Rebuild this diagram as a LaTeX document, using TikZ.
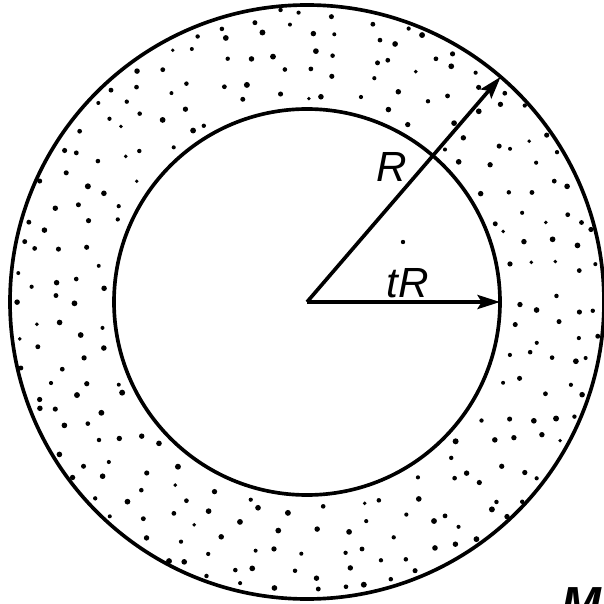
\documentclass[tikz,border=0pt]{standalone}
\usepackage{fontspec}
\setmainfont{Liberation Sans}
\usetikzlibrary{arrows.meta}

\begin{document}
\begin{tikzpicture}[x=0.025cm,y=0.025cm,
  ring/.style={line width=2.6pt},
  radius arrow/.style={line width=2.6pt,-{Stealth[length=16pt,width=10pt,inset=3pt]}},
  lbl/.style={font=\fontsize{30}{36}\selectfont\itshape}]

\useasboundingbox (-307,-302) rectangle (297,302);

\coordinate (O) at (0,0);
\coordinate (A) at (49.3:297);
\coordinate (B) at (193,0);

% stippled ring, jittered rows of dots
\pgfmathsetseed{17}
\foreach \rr in {208,230,252,273,289}{
  \pgfmathtruncatemacro{\num}{2*3.1416*\rr/30}
  \foreach \k in {1,...,\num}{
    \pgfmathsetmacro{\ang}{(360/\num)*(\k+0.8*rnd-0.4)}
    \pgfmathsetmacro{\rad}{\rr+10*rnd-5}
    \pgfmathsetmacro{\dsize}{1.9+1.1*rnd}
    \fill (\ang:\rad) circle (\dsize);
  }
}
\fill (96,60) circle (2.2);

\draw[ring] (O) circle (297);
\draw[ring] (O) circle (193);

\draw[radius arrow] (O) -- (A);
\draw[radius arrow] (O) -- (B);

\node[lbl] (r) at (85,135) {R};
\node[lbl] (tr) at (101,19) {tR};

\node[font=\fontsize{34}{40}\selectfont\bfseries\itshape,inner sep=0pt,anchor=north west] (m) at (254,-285) {M};

\end{tikzpicture}
\end{document}
